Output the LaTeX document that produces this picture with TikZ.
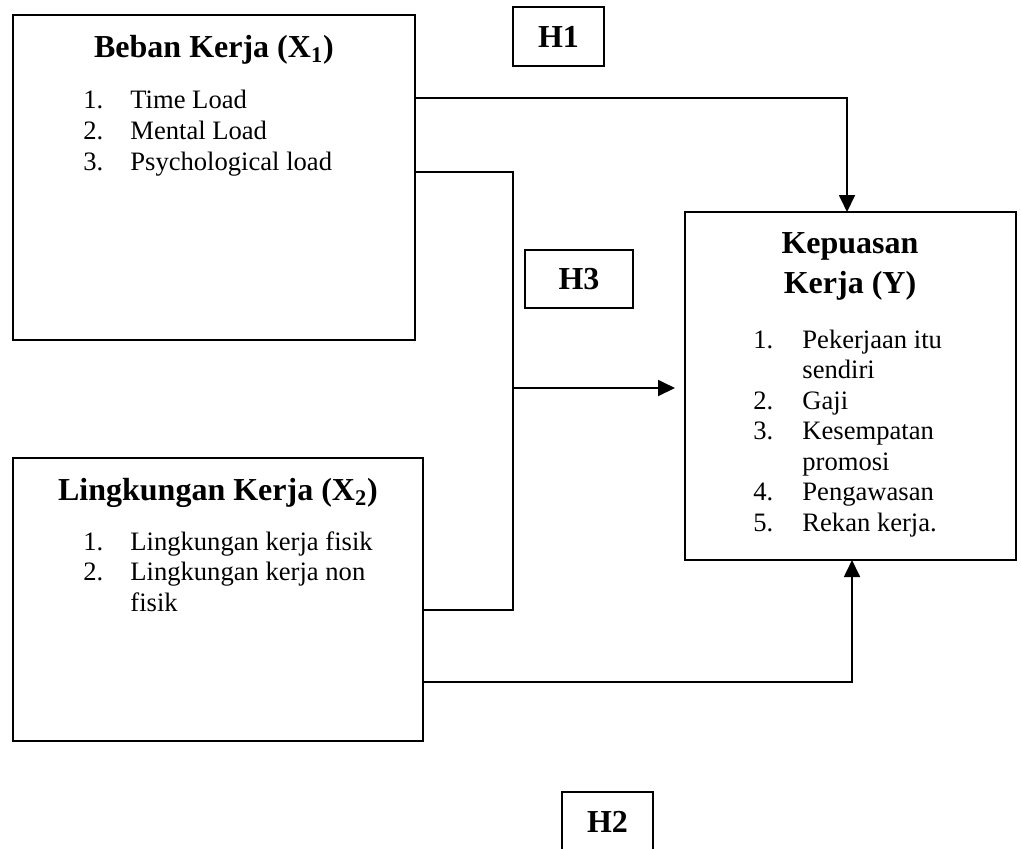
\documentclass[tikz,border=0pt]{standalone}
\usepackage{fontspec}
\setmainfont{Liberation Serif}
\usetikzlibrary{arrows.meta}
\begin{document}
\begin{tikzpicture}[x=0.5pt,y=-0.5pt,
  box/.style={draw,line width=0.9pt,inner sep=0pt,outer sep=0pt,anchor=north west},
  hbox/.style={draw,line width=0.9pt,inner sep=0pt,outer sep=0pt,font=\fontsize{16}{19}\selectfont\bfseries},
  ttl/.style={anchor=base,inner sep=0pt,font=\fontsize{16}{20}\selectfont\bfseries},
  lst/.style={anchor=base west,inner sep=0pt},
  conn/.style={line width=0.9pt},
  arr/.style={conn,-{Triangle[length=8.5pt,width=8pt]}}]
\useasboundingbox (0,0) rectangle (1021,848);
\clip (0,0) rectangle (1021,848);
% boxes
\node[box,minimum width=201pt,minimum height=162.5pt] (x1) at (13,15) {};
\node[box,minimum width=205pt,minimum height=141.5pt] (x2) at (13,458) {};
\node[box,minimum width=165.5pt,minimum height=174pt] (y) at (685,212) {};
\node[hbox,minimum width=45.5pt,minimum height=29.5pt] (h1) at (558.5,36.5) {H1};
\node[hbox,minimum width=54pt,minimum height=29pt] (h3) at (579,279) {H3};
\node[hbox,minimum width=45.5pt,minimum height=30pt] (h2) at (607.5,822) {H2};
% titles
\node[ttl] (x1t) at (214,57) {Beban Kerja (X\textsubscript{1})};
\node[ttl] (x2t) at (218,500) {Lingkungan Kerja (X\textsubscript{2})};
\node[ttl] (yt) at (850,253) {\parbox[t]{100pt}{\centering\fontsize{16}{20}\selectfont\bfseries Kepuasan\\Kerja (Y)}};
% lists
\node[lst] (x1l) at (83,108) {\parbox[t]{160pt}{\fontsize{13.3}{15.7}\selectfont
  \makebox[23.5pt][l]{1.}Time Load\\
  \makebox[23.5pt][l]{2.}Mental Load\\
  \makebox[23.5pt][l]{3.}Psychological load}};
\node[lst] (x2l) at (83,550) {\parbox[t]{170pt}{\fontsize{13.3}{15.4}\selectfont
  \makebox[23.5pt][l]{1.}Lingkungan kerja fisik\\
  \makebox[23.5pt][l]{2.}Lingkungan kerja non\\
  \hspace*{23.5pt}fisik}};
\node[lst] (yl) at (753,348) {\parbox[t]{130pt}{\fontsize{13.3}{15.25}\selectfont
  \makebox[24.5pt][l]{1.}Pekerjaan itu\\
  \hspace*{24.5pt}sendiri\\
  \makebox[24.5pt][l]{2.}Gaji\\
  \makebox[24.5pt][l]{3.}Kesempatan\\
  \hspace*{24.5pt}promosi\\
  \makebox[24.5pt][l]{4.}Pengawasan\\
  \makebox[24.5pt][l]{5.}Rekan kerja.}};
% connectors
\coordinate (hj) at (513,388);
\draw[arr] (x1.east |- 0,98) -| ([xshift=-1.75pt]y.north);
\draw[conn] (x1.east |- 0,172) -- (hj |- 0,172) -- (hj |- 0,610) -- (x2.east |- 0,610);
\draw[arr] (hj) -- ([xshift=-5pt]y.west |- hj);
\draw[arr] (x2.east |- 0,682) -| ([xshift=0.75pt]y.south);
\end{tikzpicture}
\end{document}
